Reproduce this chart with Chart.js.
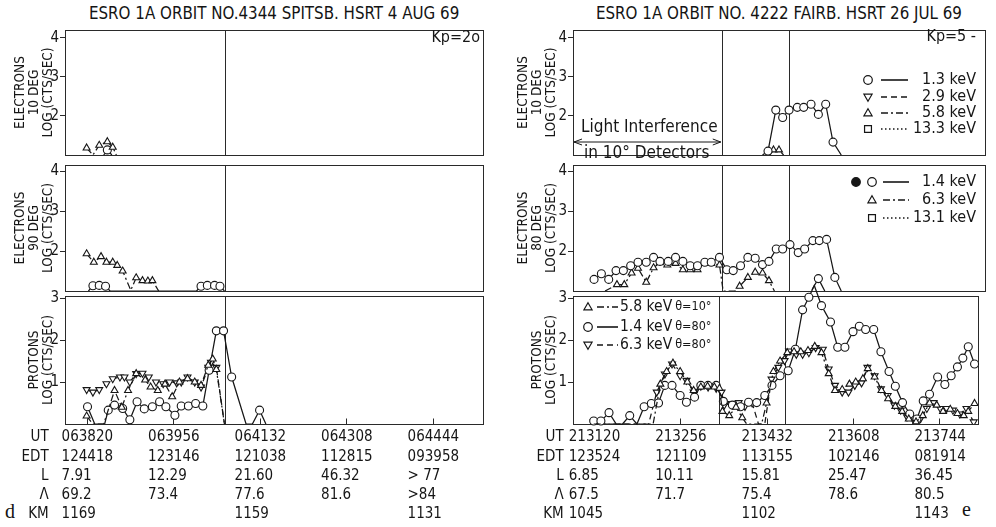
<!DOCTYPE html>
<html>
<head>
<meta charset="utf-8">
<script src="https://cdn.jsdelivr.net/npm/chart.js@4.4.0/dist/chart.umd.min.js"></script>
<style>
  body { margin: 0; background: #fff; width: 996px; height: 527px; position: relative; overflow: hidden; }
  canvas { position: absolute; }
  .ttl { position: absolute; font-family: 'Liberation Sans Narrow', 'DejaVu Sans Condensed', sans-serif; font-size: 16.8px; color: #141414; white-space: nowrap; }
  .tag { position: absolute; font-family: 'Liberation Serif', 'DejaVu Serif', serif; font-size: 20px; color: #141414; }
</style>
</head>
<body>
<div class="ttl" style="left:89px;top:3px">ESRO 1A ORBIT NO.4344 SPITSB. HSRT 4 AUG 69</div>
<div class="ttl" style="left:596px;top:3px">ESRO 1A ORBIT NO. 4222 FAIRB. HSRT 26 JUL 69</div>
<div class="tag" style="left:5px;top:500px">d</div>
<div class="tag" style="left:962px;top:498px">e</div>

<canvas id="lTop" width="496" height="145" style="left:0;top:20px"></canvas>
<canvas id="lMid" width="496" height="146" style="left:0;top:155px"></canvas>
<canvas id="lBot" width="496" height="251" style="left:0;top:276px"></canvas>
<canvas id="rTop" width="500" height="145" style="left:496px;top:20px"></canvas>
<canvas id="rMid" width="500" height="146" style="left:496px;top:155px"></canvas>
<canvas id="rBot" width="500" height="251" style="left:496px;top:276px"></canvas>

<script>
// time axis: seconds after the first UT tick
const tickT = [0, 96, 192, 288, 384];
const rowHeads = ['UT', 'EDT', 'L', 'Λ', 'KM'];

const utLeft  = ['063820', '063956', '064132', '064308', '064444'];
const edtLeft = ['124418', '123146', '121038', '112815', '093958'];
const lLeft   = ['7.91', '12.29', '21.60', '46.32', '> 77'];
const lamLeft = ['69.2', '73.4', '77.6', '81.6', '>84'];
const kmLeft  = ['1169', '', '1159', '', '1131'];

const utRight  = ['213120', '213256', '213432', '213608', '213744'];
const edtRight = ['123524', '121109', '113155', '102146', '081914'];
const lRight   = ['6.85', '10.11', '15.81', '25.47', '36.45'];
const lamRight = ['67.5', '71.7', '75.4', '78.6', '80.5'];
const kmRight  = ['1045', '', '1102', '', '1143'];

const markersLeft = [154];
const markersRight = [139.5, 213];

const kpLeft = 'Kp=2o';
const kpRight = 'Kp=5 -';
const e10Labels = ['1.3 keV', '2.9 keV', '5.8 keV', '13.3 keV'];
const e80Labels = ['1.4 keV', '6.3 keV', '13.1 keV'];
const pLabels = ['5.8 keV', '1.4 keV', '6.3 keV'];
const pAngles = ['θ=10°', 'θ=80°', 'θ=80°'];

// [t, log counts]
const eL10Tri  = [[0, 1.18], [7, 1.0], [14, 1.25], [23, 1.34], [29, 1.2], [33, 1.0]];
const eL10Circ = [[19, 1.0], [23, 1.13], [28, 1.0]];

const eL90Tri  = [[0, 1.93], [8, 1.72], [16, 1.86], [22, 1.72], [29, 1.72], [34, 1.64], [40, 1.5], [49, 1.02],
                  [55, 1.33], [62, 1.26], [68, 1.25], [73, 1.26], [80, 1.0]];
const eL90Circ = [[2, 1.0], [7, 1.13], [14, 1.14], [21, 1.12], [26, 1.0], [122, 1.0], [127, 1.12], [134, 1.14],
                  [142, 1.14], [148, 1.12], [153, 1.0]];

const pLTri  = [[0, 0.19], [7, 0], [19, 0], [31, 0.8], [39, 0.4], [46, 0.8], [55, 1.2], [65, 1.05], [71, 0.88],
                [79, 0.8], [87, 0.95], [95, 0.65], [103, 1.0], [112, 1.08], [120, 1.0], [127, 0.92], [135, 1.4],
                [140, 1.55], [144, 1.3], [153, 0]];
const pLCirc = [[1, 0.41], [9, 0], [20, 0], [24, 0.33], [31, 0.45], [40, 0.37], [48, 0.1], [56, 0.53], [64, 0.36],
                [73, 0.41], [81, 0.53], [88, 0.41], [98, 0.21], [105, 0.43], [113, 0.43], [121, 0.49], [129, 0.43],
                [136, 1.28], [144, 2.22], [152, 2.22], [161, 1.12], [177, 0], [184, 0], [192, 0.33], [199, 0]];
const pLInv  = [[0, 0.82], [7, 0.76], [14, 0.82], [22, 0.96], [29, 1.08], [37, 1.12], [42, 1.12], [48, 1.0],
                [55, 1.2], [62, 1.21], [69, 1.12], [77, 1.0], [85, 0.96], [92, 1.0], [100, 0.98], [105, 1.0],
                [112, 1.12], [120, 1.0], [127, 0.88], [135, 1.35], [138, 1.47], [144, 1.35], [153, 0]];

const eR10Circ = [[184, 1.0], [190, 1.1], [198.5, 2.15], [206, 1.96], [213, 2.15], [222, 2.22], [229, 2.22],
                  [237, 2.3], [245, 2.04], [253, 2.3], [261, 1.33], [270, 1.0]];
const eR10Tri  = [[192, 1.0], [196, 1.13], [202, 1.13], [207, 1.0]];

const eR80Circ = [[0, 1.29], [8, 1.43], [16, 1.29], [24, 1.51], [32, 1.51], [40, 1.63], [48, 1.72], [57, 1.72],
                  [65, 1.84], [72, 1.74], [81, 1.74], [89, 1.84], [97, 1.74], [105, 1.63], [113, 1.63], [121, 1.72],
                  [128, 1.72], [137, 1.84], [145, 1.53], [152, 1.51], [160, 1.63], [168, 1.84], [176, 1.82],
                  [184, 1.66], [191, 1.74], [199, 2.05], [206, 2.05], [214, 2.16], [223, 1.96], [230, 2.05],
                  [239, 2.26], [246, 2.26], [254, 2.29], [263, 1.34], [270, 1.0]];
const eR80Tri  = [[12, 1.0], [25, 1.16], [33, 1.16], [41, 1.45], [48, 1.57], [57, 1.22], [65, 1.58], [72, 1.71],
                  [80, 1.65], [89, 1.69], [97, 1.53], [105, 1.53], [113, 1.53], [121, 1.69], [128, 1.69],
                  [137, 1.65], [141, 1.0], [154, 1.0], [159, 1.12], [168, 1.34], [176, 1.47], [184, 1.45],
                  [191, 1.26], [197, 1.0]];
const eR80Circ2 = [[238, 1.03], [245, 1.31], [252, 1.0]];

const pRCirc = [[0, 0.07], [8, 0.07], [17, 0.27], [25, 0], [32, 0], [40, 0.2], [48, 0], [56, 0.41], [64, 0.49],
                [72, 0.5], [79, 0.92], [87, 0.92], [96, 0.68], [103, 0.52], [112, 0.64], [119, 0.92], [127, 0.92],
                [136, 0.92], [144, 0.54], [154, 0.45], [163, 0.41], [172, 0.52], [181, 0.51], [190, 0.68],
                [198, 0.92], [207, 1.15], [216, 1.27], [224, 1.78], [232, 2.72], [239, 3.02], [245, 3.3],
                [253, 2.82], [263, 2.43], [271, 1.83], [279, 1.83], [288, 2.2], [295, 2.33], [302, 2.25],
                [311, 2.25], [319, 1.72], [328, 1.25], [335, 0.9], [343, 0.51], [351, 0.24], [359, 0.12],
                [366, 0.55], [373, 0.71], [382, 1.12], [390, 0.94], [397, 1.15], [404, 1.36], [410, 1.57],
                [416, 1.84], [423, 1.43]];
const pRInv  = [[0, 0.05], [8, 0], [61, 0], [70, 0.76], [79, 1.19], [87, 1.43], [96, 1.15], [103, 1.04],
                [111, 0.76], [119, 0.9], [127, 0.88], [136, 0.85], [142, 0.76], [145, 0.45], [153, 0.49],
                [161, 0.51], [168, 0.42], [176, 0.5], [183, 0], [190, 0], [197.5, 1.07], [205, 1.35], [212, 1.51],
                [217, 1.74], [225, 1.66], [232, 1.66], [239, 1.7], [246.5, 1.82], [254.5, 1.78], [261, 1.31],
                [268, 0.92], [276, 0.76], [283, 0.76], [290, 0.92], [297.5, 0.98], [304, 1.35], [312, 1.15],
                [319, 0.84], [326.5, 0.68], [334, 0.45], [341, 0.33], [348, 0.17], [356, 0.07], [363, 0.13],
                [370, 0.37], [377.5, 0.51], [385, 0.37], [392, 0.37], [399, 0.33], [406.6, 0.24], [414, 0.37],
                [422, 0.05]];
const pRTri  = [[0, 0], [66, 0], [74, 0.95], [81, 1.25], [88, 1.45], [96, 1.25], [104, 1.0], [111, 0.8],
                [119, 0.88], [126.5, 0.9], [134, 0.88], [139.6, 0.85], [143, 0.3], [150.5, 0.2], [158, 0.4],
                [165, 0.15], [170, 0], [186.5, 0], [192, 0.5], [199.6, 1.25], [207, 1.5], [215, 1.7],
                [222.5, 1.72], [230, 1.72], [238, 1.75], [245.5, 1.85], [253, 1.7], [261, 1.2], [268, 0.8],
                [276, 0.82], [284, 0.95], [291, 1.0], [299, 1.08], [304.4, 1.32], [312, 1.12], [319.6, 0.8],
                [327, 0.6], [335, 0.42], [342.6, 0.3], [350, 0.12], [358, 0.05], [365.5, 0.2], [373, 0.5],
                [381, 0.45], [388, 0.3], [396, 0.35], [404, 0.25], [411, 0.2], [416, 0.3], [423, 0.49]];

const family = "'Liberation Sans Narrow', 'DejaVu Sans Condensed', sans-serif";
Chart.defaults.font.family = family;
Chart.defaults.color = '#141414';

const SOLID = [], DASH = [6, 4], DASHDOT = [7, 3, 2, 3], DOT = [1.5, 2.5];
const INK = '#161616';

function drawSym(ctx, kind, x, y, r, fill) {
  ctx.beginPath();
  if (kind === 'circle') {
    ctx.arc(x, y, r, 0, Math.PI * 2);
  } else if (kind === 'triangle') {
    ctx.moveTo(x, y - r); ctx.lineTo(x + r * 0.95, y + r * 0.65); ctx.lineTo(x - r * 0.95, y + r * 0.65); ctx.closePath();
  } else if (kind === 'down') {
    ctx.moveTo(x, y + r); ctx.lineTo(x + r * 0.95, y - r * 0.65); ctx.lineTo(x - r * 0.95, y - r * 0.65); ctx.closePath();
  } else {
    ctx.rect(x - r * 0.8, y - r * 0.8, r * 1.6, r * 1.6);
  }
  ctx.fillStyle = fill || '#fff';
  ctx.fill();
  ctx.stroke();
}

// frame, time markers and all annotation text
const notes = {
  id: 'notes',
  beforeDatasetsDraw(chart, args, o) {
    const { ctx, chartArea: a } = chart;
    const x = chart.scales.x;
    const L = Math.round(a.left) + 0.5, T = Math.round(a.top) + 0.5;
    const R = Math.round(a.right) + 0.5, B = Math.round(a.bottom) + 0.5;
    ctx.save();
    ctx.strokeStyle = '#2a2a2a';
    ctx.lineWidth = 1;
    ctx.strokeRect(L, T, R - L, B - T);
    ctx.beginPath();
    (o.markers || []).forEach(t => {
      const px = Math.round(x.getPixelForValue(t)) + 0.5;
      ctx.moveTo(px, T); ctx.lineTo(px, B);
    });
    if (o.innerTicks) {
      x.ticks.forEach(tk => {
        const px = Math.round(x.getPixelForValue(tk.value)) + 0.5;
        ctx.moveTo(px, B); ctx.lineTo(px, B - 6);
      });
    }
    ctx.stroke();
    ctx.restore();
  },
  afterDraw(chart, args, o) {
    const { ctx, chartArea: a } = chart;
    const x = chart.scales.x;
    ctx.save();
    ctx.fillStyle = INK;
    ctx.strokeStyle = INK;
    ctx.textBaseline = 'middle';

    (o.texts || []).forEach(t => {
      ctx.font = t.size + 'px ' + family;
      ctx.textAlign = t.align || 'left';
      ctx.fillText(t.text, a.left + t.dx, a.top + t.dy);
    });

    if (o.legend) {
      const g = o.legend;
      g.labels.forEach((lab, i) => {
        const y = a.top + g.rows[i];
        ctx.lineWidth = 1.2;
        ctx.setLineDash([]);
        drawSym(ctx, g.syms[i], a.left + g.symX, y, 4.3);
        if (i === 0 && g.dot) drawSym(ctx, 'circle', a.left + g.dot, y, 4.3, INK);
        ctx.setLineDash(g.dashes[i]);
        ctx.lineWidth = 1.6;
        ctx.beginPath();
        ctx.moveTo(a.left + g.x1, y); ctx.lineTo(a.left + g.x2, y);
        ctx.stroke();
        ctx.setLineDash([]);
        ctx.fillStyle = INK;
        ctx.font = g.size + 'px ' + family;
        ctx.textAlign = g.align;
        ctx.fillText(lab, a.left + g.tx, y);
        if (g.extra) {
          const w = ctx.measureText(lab).width;
          ctx.font = g.extraSize + 'px ' + family;
          ctx.textAlign = 'left';
          ctx.fillText(g.extra[i], a.left + g.tx + w + 3, y);
        }
      });
    }

    if (o.arrow) {
      const y = a.top + o.arrow.dy;
      const x1 = a.left + 1, x2 = x.getPixelForValue(o.arrow.to) - 1;
      ctx.lineWidth = 1;
      ctx.beginPath();
      ctx.moveTo(x1, y); ctx.lineTo(x2, y);
      ctx.moveTo(x1 + 8, y - 3); ctx.lineTo(x1, y); ctx.lineTo(x1 + 8, y + 3);
      ctx.moveTo(x2 - 8, y - 3); ctx.lineTo(x2, y); ctx.lineTo(x2 - 8, y + 3);
      ctx.stroke();
    }

    if (o.heads) {
      ctx.font = '15px ' + family;
      ctx.textAlign = 'right';
      const x0 = x.getPixelForValue(tickT[0]) - o.headGap;
      o.heads.forEach((h, i) => ctx.fillText(h, x0, x.top + 4 + 19.2 * (i + 0.5)));
    }
    ctx.restore();
  }
};

function makeChart(id, o) {
  const cols = o.cols;
  const datasets = o.series.map(s => ({
    data: s.pts.map(p => ({ x: p[0], y: p[1] })),
    borderColor: INK,
    borderWidth: 1.25,
    borderDash: s.dash,
    pointStyle: s.sym === 'down' ? 'triangle' : s.sym,
    rotation: s.sym === 'down' ? 180 : 0,
    pointBackgroundColor: '#fff',
    pointBorderColor: INK,
    pointBorderWidth: 1.1,
    pointRadius: c => (c.raw && c.raw.y > o.yMin + 0.03) ? (s.sym === 'rect' ? 3.4 : 4) : 0,
    tension: 0,
    clip: s.clip === false ? false : undefined
  }));
  return new Chart(document.getElementById(id), {
    type: 'line',
    data: { datasets },
    plugins: [notes],
    options: {
      responsive: false,
      animation: false,
      events: [],
      layout: { padding: o.pad },
      plugins: { legend: { display: false }, tooltip: { enabled: false }, notes: o.notes },
      scales: {
        x: {
          type: 'linear',
          min: o.xMin, max: o.xMax,
          display: !!cols,
          afterBuildTicks: s => { s.ticks = tickT.map(v => ({ value: v })); },
          afterFit: s => { if (cols) s.height = 103; },
          grid: { display: false, drawTicks: false },
          border: { display: false },
          ticks: {
            autoSkip: false, maxRotation: 0, minRotation: 0,
            align: 'start', labelOffset: -25, padding: 4,
            color: INK,
            font: { size: 15, lineHeight: 1.28 },
            callback: (v, i) => cols ? cols.map(c => c[i]) : ''
          }
        },
        y: {
          min: o.yMin, max: o.yMax,
          afterBuildTicks: s => { s.ticks = o.yTicks.map(v => ({ value: v })); },
          afterFit: s => { s.width = o.yW; },
          grid: { drawOnChartArea: false, drawTicks: true, tickLength: 5, color: '#2a2a2a' },
          border: { display: false },
          ticks: { padding: 1, color: INK, font: { size: 15 }, callback: v => String(v) },
          title: {
            display: true, text: o.yTitle, color: INK,
            font: { size: 13.5, lineHeight: 1.05 }, padding: { top: 5, bottom: 0 }
          }
        }
      }
    }
  });
}

const leftX = { xMin: -24, xMax: 440, pad: { left: 8, right: 13, top: 5, bottom: 5 }, yW: 57 };
const rightX = { xMin: -23, xMax: 427, pad: { left: 15, right: 11, top: 5, bottom: 5 }, yW: 62 };

makeChart('lTop', Object.assign({}, leftX, {
  yMin: 1, yMax: 4.2, yTicks: [2, 3, 4],
  yTitle: ['ELECTRONS', '10 DEG', 'LOG (CTS/SEC)'],
  series: [
    { pts: eL10Tri, sym: 'triangle', dash: DASHDOT },
    { pts: eL10Circ, sym: 'circle', dash: SOLID }
  ],
  notes: { markers: markersLeft, texts: [{ text: kpLeft, dx: 415, dy: 8, size: 16, align: 'right' }] }
}));

makeChart('lMid', Object.assign({}, leftX, {
  yMin: 1, yMax: 4.15, yTicks: [2, 3, 4],
  yTitle: ['ELECTRONS', '90 DEG', 'LOG (CTS/SEC)'],
  series: [
    { pts: eL90Tri, sym: 'triangle', dash: DASHDOT },
    { pts: eL90Circ, sym: 'circle', dash: SOLID }
  ],
  notes: { markers: markersLeft }
}));

makeChart('lBot', Object.assign({}, leftX, {
  pad: { left: 8, right: 13, top: 20, bottom: 0 },
  yMin: 0, yMax: 3.05, yTicks: [1, 2, 3],
  yTitle: ['', 'PROTONS', 'LOG (CTS/SEC)'],
  cols: [utLeft, edtLeft, lLeft, lamLeft, kmLeft],
  series: [
    { pts: pLTri, sym: 'triangle', dash: DASHDOT },
    { pts: pLCirc, sym: 'circle', dash: SOLID },
    { pts: pLInv, sym: 'down', dash: DASH }
  ],
  notes: { markers: markersLeft, innerTicks: true, heads: rowHeads, headGap: 38 }
}));

makeChart('rTop', Object.assign({}, rightX, {
  yMin: 1, yMax: 4.2, yTicks: [2, 3, 4],
  yTitle: ['ELECTRONS', '10 DEG', 'LOG (CTS/SEC)'],
  series: [
    { pts: eR10Circ, sym: 'circle', dash: SOLID },
    { pts: eR10Tri, sym: 'triangle', dash: DASHDOT }
  ],
  notes: {
    markers: markersRight,
    texts: [
      { text: kpRight, dx: 403, dy: 7, size: 16, align: 'right' },
      { text: 'Light Interference', dx: 8, dy: 98, size: 17 },
      { text: 'in 10° Detectors', dx: 11, dy: 124, size: 17 }
    ],
    arrow: { dy: 112, to: markersRight[0] },
    legend: {
      labels: e10Labels, syms: ['circle', 'down', 'triangle', 'rect'], dashes: [SOLID, DASH, DASHDOT, DOT],
      rows: [50, 67, 83, 99], symX: 295, x1: 308, x2: 335, tx: 403, align: 'right', size: 16
    }
  }
}));

makeChart('rMid', Object.assign({}, rightX, {
  yMin: 1, yMax: 4.15, yTicks: [2, 3, 4],
  yTitle: ['ELECTRONS', '80 DEG', 'LOG (CTS/SEC)'],
  series: [
    { pts: eR80Circ, sym: 'circle', dash: SOLID },
    { pts: eR80Tri, sym: 'triangle', dash: DASHDOT },
    { pts: eR80Circ2, sym: 'circle', dash: SOLID }
  ],
  notes: {
    markers: markersRight,
    legend: {
      labels: e80Labels, syms: ['circle', 'triangle', 'rect'], dashes: [SOLID, DASHDOT, DOT],
      rows: [17, 35, 53], symX: 299, dot: 283, x1: 310, x2: 336, tx: 403, align: 'right', size: 16
    }
  }
}));

makeChart('rBot', Object.assign({}, rightX, {
  pad: { left: 15, right: 11, top: 20, bottom: 0 },
  yMin: 0, yMax: 3.05, yTicks: [1, 2, 3],
  yTitle: ['', 'PROTONS', 'LOG (CTS/SEC)'],
  cols: [utRight, edtRight, lRight, lamRight, kmRight],
  series: [
    { pts: pRTri, sym: 'triangle', dash: DASHDOT },
    { pts: pRCirc, sym: 'circle', dash: SOLID, clip: false },
    { pts: pRInv, sym: 'down', dash: DASH }
  ],
  notes: {
    markers: markersRight, innerTicks: true, heads: rowHeads, headGap: 30,
    legend: {
      labels: pLabels, extra: pAngles, syms: ['triangle', 'circle', 'down'], dashes: [DASHDOT, SOLID, DASH],
      rows: [11, 31, 49], symX: 15, x1: 24, x2: 45, tx: 47, align: 'left', size: 15.5, extraSize: 12.5
    }
  }
}));
</script>
</body>
</html>
